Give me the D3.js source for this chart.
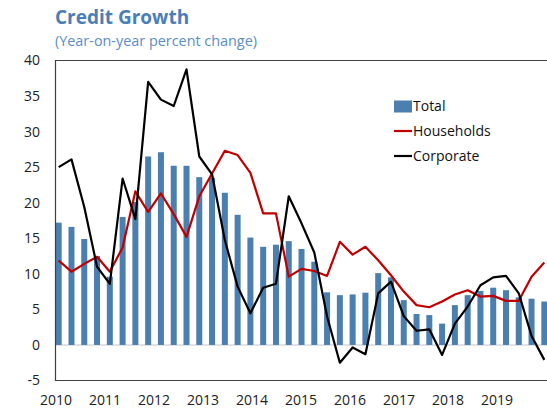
<!DOCTYPE html>
<html>
<head>
<meta charset="utf-8">
<script src="https://cdn.jsdelivr.net/npm/d3@7"></script>
<style>
  body { margin: 0; background: #fff; }
  text { font-family: "Open Sans", sans-serif; }
</style>
</head>
<body>
<svg id="main"></svg>
<script>

// quarterly data, 2010Q1 .. 2019Q3 (chart is cut off on the right)
var quarters = ["2010Q1","2010Q2","2010Q3","2010Q4","2011Q1","2011Q2","2011Q3","2011Q4",
  "2012Q1","2012Q2","2012Q3","2012Q4","2013Q1","2013Q2","2013Q3","2013Q4",
  "2014Q1","2014Q2","2014Q3","2014Q4","2015Q1","2015Q2","2015Q3","2015Q4",
  "2016Q1","2016Q2","2016Q3","2016Q4","2017Q1","2017Q2","2017Q3","2017Q4",
  "2018Q1","2018Q2","2018Q3","2018Q4","2019Q1","2019Q2","2019Q3"];

var total = [17.2, 16.6, 14.9, 12.5, 9.6, 18.0, 20.1, 26.5, 27.1, 25.2, 25.2, 23.6,
  23.5, 21.4, 18.3, 15.1, 13.8, 14.1, 14.6, 13.5, 11.7, 7.4, 7.0, 7.1,
  7.35, 10.1, 9.5, 6.3, 4.35, 4.2, 3.0, 5.6, 7.0, 7.6, 8.05, 7.7, 6.7, 6.5, 6.1];

var households = [11.85, 10.3, 11.4, 12.4, 10.3, 13.7, 21.6, 18.7, 21.3, 18.4, 15.2, 20.9,
  24.1, 27.3, 26.7, 24.2, 18.5, 18.5, 9.6, 10.7, 10.4, 9.7, 14.5, 12.7,
  13.8, 11.9, 9.8, 7.5, 5.6, 5.3, 6.1, 7.1, 7.7, 6.8, 6.9, 6.2, 6.2, 9.6, 11.6];

var corporate = [25.0, 26.1, 19.4, 11.0, 8.6, 23.4, 17.7, 37.0, 34.5, 33.6, 38.75, 26.5,
  24.0, 14.75, 8.2, 4.45, 8.05, 8.6, 20.9, 17.1, 13.0, 4.0, -2.5, -0.35,
  -1.3, 7.25, 8.9, 4.05, 2.0, 2.2, -1.4, 3.0, 5.4, 8.4, 9.5, 9.7, 7.25, 1.25, -2.1];

var years = [2010, 2011, 2012, 2013, 2014, 2015, 2016, 2017, 2018, 2019];
var yTicks = [-5, 0, 5, 10, 15, 20, 25, 30, 35, 40];

var chart = {
  width: 547,
  height: 413,
  left: 55.5,
  top: 60.5,
  bottom: 380.5,
  right: 620,
  barWidth: 6
}

var svg = d3.select("#main")
  .attr("width", chart.width)
  .attr("height", chart.height)

var y = d3.scaleLinear()
  .domain([-5, 40])
  .range([chart.bottom, chart.top])

var x = d3.scalePoint()
  .domain(quarters)
  .range([58.7, 58.7 + 38 * 12.78])

var xYear = d3.scaleLinear()
  .domain([2010, 2019])
  .range([56, 497])

// title
svg.append("text")
  .attr("x", 55).attr("y", 24)
  .attr("font-size", 19).attr("font-weight", "bold")
  .attr("fill", "#4a7eb6")
  .text("Credit Growth")

svg.append("text")
  .attr("x", 55).attr("y", 46)
  .attr("font-size", 14.4)
  .attr("fill", "#5a8ec6")
  .text("(Year-on-year percent change)")

// zero line
svg.append("line")
  .attr("x1", chart.left).attr("x2", chart.right)
  .attr("y1", y(0)).attr("y2", y(0))
  .attr("stroke", "#d9d9d9").attr("stroke-width", 1.5)

// bars
svg.selectAll("rect.bar")
  .data(total)
  .enter().append("rect")
  .attr("class", "bar")
  .attr("x", function(d, i) { return x(quarters[i]) - chart.barWidth / 2 })
  .attr("width", chart.barWidth)
  .attr("y", function(d) { return y(Math.max(0, d)) })
  .attr("height", function(d) { return Math.abs(y(d) - y(0)) })
  .attr("fill", "#4a7fb0")

var line = function(vals) {
  return d3.line()
    .x(function(d, i) { return x(quarters[i]) })
    .y(function(d) { return y(d) })(vals)
}

svg.append("path")
  .attr("d", line(households))
  .attr("fill", "none").attr("stroke", "#c00000").attr("stroke-width", 2.2)
  .attr("stroke-linejoin", "round")

svg.append("path")
  .attr("d", line(corporate))
  .attr("fill", "none").attr("stroke", "#000").attr("stroke-width", 2.2)
  .attr("stroke-linejoin", "round")

// frame
svg.append("path")
  .attr("d", "M" + chart.right + "," + chart.top + "H" + chart.left + "V" + chart.bottom + "H" + chart.right)
  .attr("fill", "none").attr("stroke", "#404040").attr("stroke-width", 1.2)

// y labels
svg.selectAll("text.ytick")
  .data(yTicks)
  .enter().append("text")
  .attr("class", "ytick")
  .attr("x", 40)
  .attr("y", function(d) { return y(d) })
  .attr("dy", "0.35em")
  .attr("text-anchor", "end")
  .attr("font-size", 14)
  .attr("fill", "#222")
  .text(function(d) { return d })

// x labels
svg.selectAll("text.xtick")
  .data(years)
  .enter().append("text")
  .attr("class", "xtick")
  .attr("x", function(d) { return xYear(d) })
  .attr("y", 405)
  .attr("text-anchor", "middle")
  .attr("font-size", 14)
  .attr("fill", "#222")
  .text(function(d) { return d })

// legend
var legend = svg.append("g").attr("transform", "translate(394,106.5)")
legend.append("rect")
  .attr("x", 0).attr("y", -6).attr("width", 18).attr("height", 12)
  .attr("fill", "#4a7fb0")
legend.append("line")
  .attr("x1", 0).attr("x2", 18).attr("y1", 24.5).attr("y2", 24.5)
  .attr("stroke", "#c00000").attr("stroke-width", 2.2)
legend.append("line")
  .attr("x1", 0).attr("x2", 18).attr("y1", 49.5).attr("y2", 49.5)
  .attr("stroke", "#000").attr("stroke-width", 2.2)

var legendLabels = ["Total", "Households", "Corporate"]
legend.selectAll("text")
  .data(legendLabels)
  .enter().append("text")
  .attr("x", 19)
  .attr("y", function(d, i) { return i * 24.7 })
  .attr("dy", "0.35em")
  .attr("font-size", 14)
  .attr("fill", "#111")
  .text(function(d) { return d })

</script>
</body>
</html>
